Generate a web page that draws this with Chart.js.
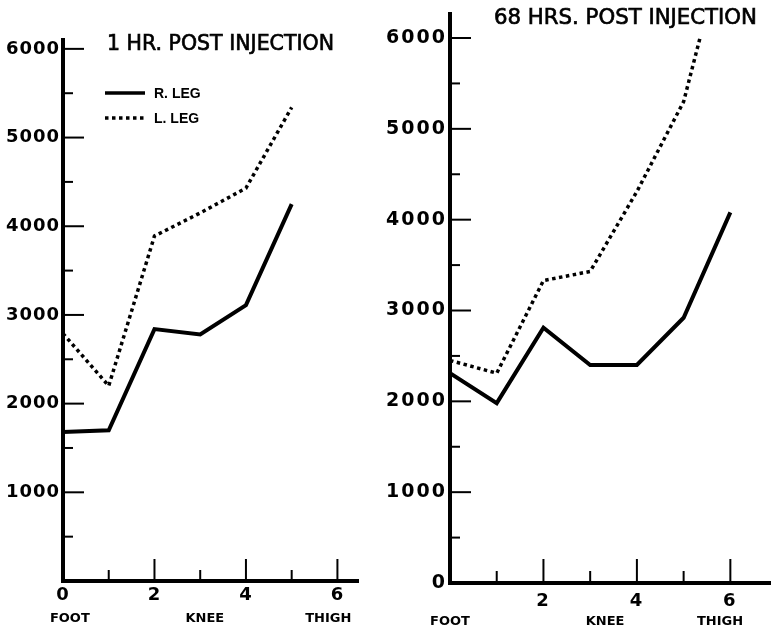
<!DOCTYPE html>
<html><head><meta charset="utf-8">
<script src="https://cdn.jsdelivr.net/npm/chart.js@4/dist/chart.umd.min.js"></script>
<style>
html,body{margin:0;padding:0;background:#fff;width:771px;height:631px;overflow:hidden}
canvas{position:absolute;top:0}
#cl{left:0}
#cr{left:385px}
</style></head><body>
<canvas id="cl" width="385" height="631"></canvas>
<canvas id="cr" width="386" height="631"></canvas>
<script>
// ---- data ----
const seriesNames = ['R. LEG', 'L. LEG'];
const xPos1hr = [0, 1, 2, 3, 4, 5];
const rLeg1hr = [1680, 1700, 2840, 2780, 3110, 4250];
const lLeg1hr = [2790, 2200, 3890, 4150, 4430, 5340];
const xPosR68 = [0, 1, 2, 3, 4, 5, 6];
const rLeg68hr = [2310, 1980, 2810, 2400, 2400, 2920, 4080];
const xPosL68 = [0, 1, 2, 3, 4, 5, 5.35];
const lLeg68hr = [2450, 2310, 3330, 3430, 4310, 5300, 6000];
const yTickValues = [0, 500, 1000, 1500, 2000, 2500, 3000, 3500, 4000, 4500, 5000, 5500, 6000];
const xTickValues = [0, 1, 2, 3, 4, 5, 6];
const xRegionLabels = ['FOOT', 'KNEE', 'THIGH'];
const titles = ['1 HR. POST INJECTION', '68 HRS. POST INJECTION'];

const FONT = '"DejaVu Sans", sans-serif';
const TFONT = '"Liberation Sans", Arial, sans-serif';
const pts = (xs, ys) => xs.map((x, i) => ({x, y: ys[i]}));

const decor = {
  id: 'decor',
  beforeDraw(chart, args, o) {
    chart.ctx.letterSpacing = o.spacing;
  },
  afterDraw(chart, args, o) {
    const ctx = chart.ctx, xs = chart.scales.x, ys = chart.scales.y;
    ctx.letterSpacing = '0px';
    ctx.save();
    ctx.strokeStyle = '#000'; ctx.fillStyle = '#000'; ctx.lineCap = 'butt';
    ctx.lineWidth = 2;
    // inward tick marks on y axis
    ys.ticks.forEach(t => {
      if (t.value <= 0) return;
      const p = ys.getPixelForValue(t.value);
      const L = (t.value % 1000 === 0) ? o.yMajor : o.yMinor;
      ctx.beginPath(); ctx.moveTo(xs.left, p); ctx.lineTo(xs.left + L, p); ctx.stroke();
    });
    // inward tick marks on x axis
    xs.ticks.forEach(t => {
      if (t.value <= 0) return;
      const p = xs.getPixelForValue(t.value);
      const L = (t.value % 2 === 0) ? o.xMajor : o.xMinor;
      ctx.beginPath(); ctx.moveTo(p, ys.bottom); ctx.lineTo(p, ys.bottom - L); ctx.stroke();
    });
    // title: cap-height sized font, squeezed horizontally to the reference width
    ctx.save();
    ctx.textBaseline = 'middle'; ctx.textAlign = 'left';
    ctx.font = `22px ${FONT}`;
    const sx = o.titleW / ctx.measureText(o.title).width;
    ctx.translate(o.titleX, o.titleY);
    ctx.scale(sx, 1);
    ctx.lineWidth = 0.7;
    ctx.fillText(o.title, 0, 0);
    ctx.strokeText(o.title, 0, 0);
    ctx.restore();
    // region labels under x axis
    ctx.textAlign = 'center'; ctx.textBaseline = 'middle';
    ctx.font = `bold 13px ${FONT}`;
    xRegionLabels.forEach((s, i) => {
      ctx.fillText(s, xs.getPixelForValue(o.regionAt[i]), o.regionY);
    });
    // legend
    if (o.legend) {
      const lg = o.legend;
      chart.data.datasets.forEach((ds, i) => {
        const yy = lg.y + i * lg.gap;
        ctx.lineWidth = i === 0 ? 3.5 : ds.borderWidth;
        ctx.setLineDash(ds.borderDash || []);
        ctx.beginPath(); ctx.moveTo(lg.x, yy); ctx.lineTo(lg.x + lg.len, yy); ctx.stroke();
        ctx.setLineDash([]);
        ctx.textAlign = 'left';
        ctx.font = `bold 14px ${TFONT}`;
        ctx.fillText(ds.label, lg.x + lg.len + 9, yy + 1);
      });
    }
    ctx.restore();
  }
};

function makeChart(id, datasets, cfg) {
  return new Chart(document.getElementById(id), {
    type: 'line',
    data: { datasets },
    plugins: [decor],
    options: {
      responsive: false,
      animation: false,
      layout: { padding: cfg.padding },
      plugins: { legend: { display: false }, tooltip: { enabled: false }, decor: cfg.decor },
      elements: { point: { radius: 0 }, line: { tension: 0 } },
      scales: {
        x: {
          type: 'linear', min: 0, max: cfg.xMax,
          afterBuildTicks: s => { s.ticks = xTickValues.map(v => ({ value: v })); },
          afterFit: s => { s.height = cfg.xH; },
          grid: { drawOnChartArea: false, drawTicks: false },
          border: { display: true, width: 4, color: '#000' },
          ticks: {
            padding: cfg.xPad, color: '#000', maxRotation: 0, autoSkip: false,
            font: { family: FONT, size: 18, weight: 'bold' },
            callback: v => (v % 2 === 0 && cfg.xShow.includes(v)) ? String(v) : ''
          }
        },
        y: {
          min: 0, max: cfg.yMax,
          afterBuildTicks: s => { s.ticks = yTickValues.map(v => ({ value: v })); },
          afterFit: s => { s.width = cfg.yW; },
          grid: { drawOnChartArea: false, drawTicks: false },
          border: { display: true, width: 4, color: '#000' },
          ticks: {
            padding: cfg.yPad, color: '#000', autoSkip: false,
            font: { family: FONT, size: cfg.yFont, weight: 'bold' },
            callback: v => (v % 1000 === 0 && (v > 0 || cfg.showZero)) ? String(v) : ''
          }
        }
      }
    }
  });
}

const solid = { borderColor: '#000', borderWidth: 4, fill: false, borderCapStyle: 'butt', borderJoinStyle: 'miter' };
const dotted = { borderColor: '#000', borderWidth: 3.5, borderDash: [3.5, 3.5], fill: false, borderCapStyle: 'butt' };

makeChart('cl', [
  { label: seriesNames[0], data: pts(xPos1hr, rLeg1hr), ...solid },
  { label: seriesNames[1], data: pts(xPos1hr, lLeg1hr), ...dotted }
], {
  padding: { left: 0, top: 40, right: 27, bottom: 0 },
  xMax: 6.45, yMax: 6100, xH: 50, yW: 63, xPad: 4, yFont: 18, yPad: 3,
  xShow: [0, 2, 4, 6], showZero: false,
  decor: { title: titles[0], titleX: 107, titleY: 44, titleW: 227, spacing: '1px',
           yMajor: 21, yMinor: 10, xMajor: 22, xMinor: 11,
           regionAt: [0.15, 3.1, 5.8], regionY: 619,
           legend: { x: 105, y: 93, gap: 25, len: 40 } }
});

makeChart('cr', [
  { label: seriesNames[0], data: pts(xPosR68, rLeg68hr), ...solid },
  { label: seriesNames[1], data: pts(xPosL68, lLeg68hr), ...dotted }
], {
  padding: { left: 0, top: 13, right: 0, bottom: 0 },
  xMax: 6.87, yMax: 6260, xH: 48, yW: 65, xPad: 8, yFont: 19, yPad: 3,
  xShow: [2, 4, 6], showZero: true,
  decor: { title: titles[1], titleX: 109, titleY: 18, titleW: 263, spacing: '2px',
           yMajor: 21, yMinor: 10, xMajor: 24, xMinor: 12,
           regionAt: [0, 3.32, 5.78], regionY: 622, legend: null }
});
</script>
</body></html>
